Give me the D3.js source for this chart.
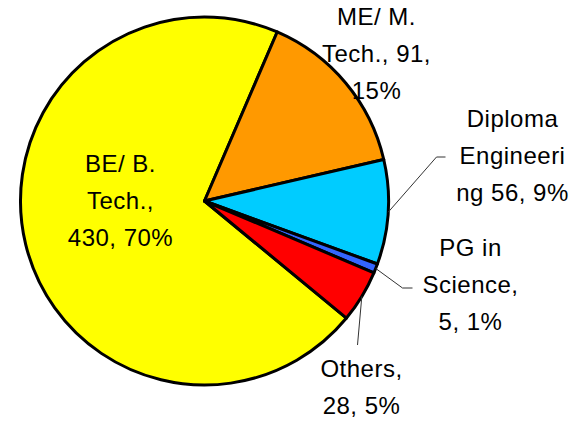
<!DOCTYPE html>
<html>
<head>
<meta charset="utf-8">
<script src="https://cdn.jsdelivr.net/npm/d3@7"></script>
<style>
  body { margin: 0; background: #fff; }
</style>
</head>
<body>
<div id="chart"></div>
<script>
// Pie of students by qualification

const categories = ["BE/ B. Tech.", "ME/ M. Tech.", "Diploma Engineering", "PG in Science", "Others"];
const counts = [430, 91, 56, 5, 28];
const colors = ["#ffff00", "#ff9900", "#00ccff", "#3366ff", "#ff0000"];
// how each label wraps ({v} = count, {p} = percent)
const labelLines = [
  ["BE/ B.", "Tech.,", "{v}, {p}%"],
  ["ME/ M.", "Tech., {v},", "{p}%"],
  ["Diploma", "Engineeri", "ng {v}, {p}%"],
  ["PG in", "Science,", "{v}, {p}%"],
  ["Others,", "{v}, {p}%"]
];

const width = 585,
  height = 424,
  cx = 204.5,
  cy = 201,
  radius = 184,
  lineH = 37;

// label placement relative to pie centre (first baseline), and leader line ends
const labelPos = [[-84, -29], [172, -176], [308, -74], [266, 55], [157, 176]];
const leaders = [null, null, [[232, -44], [241, -44]], [[198, 87], [208, 87]], [[153, 144]]];

const total = d3.sum(counts);
const deg = Math.PI / 180;

const arcs = d3.pie()
  .sort(null)
  .value(d => d)
  .startAngle(129.5 * deg)
  .endAngle(489.5 * deg)(counts);

const arc = d3.arc().innerRadius(0).outerRadius(radius);

const svg = d3.select("#chart")
  .append("svg")
  .attr("width", width)
  .attr("height", height)
  .style("font-family", "'Liberation Sans', Arial, sans-serif");

const g = svg.append("g").attr("transform", `translate(${cx},${cy})`);

g.append("g")
  .attr("stroke", "#000")
  .attr("stroke-width", 3)
  .attr("stroke-linejoin", "round")
  .selectAll("path")
  .data(arcs)
  .join("path")
  .attr("fill", (d, i) => colors[i])
  .attr("d", arc);

// leader lines from slice edge
g.append("g")
  .attr("fill", "none")
  .attr("stroke", "#333")
  .attr("stroke-width", 1)
  .selectAll("path")
  .data(arcs.filter((d, i) => leaders[i]))
  .join("path")
  .attr("d", d => {
    const mid = (d.startAngle + d.endAngle) / 2;
    const start = d3.pointRadial(mid, radius);
    return d3.line()([start, ...leaders[d.index]]);
  });

g.append("g")
  .attr("font-size", 24)
  .attr("letter-spacing", 0.5)
  .attr("text-anchor", "middle")
  .attr("fill", "#000")
  .selectAll("text")
  .data(arcs)
  .join("text")
  .attr("transform", d => `translate(${labelPos[d.index]})`)
  .selectAll("tspan")
  .data(d => {
    const pct = Math.round(d.value / total * 100);
    return labelLines[d.index].map(s => s.replace("{v}", d.value).replace("{p}", pct));
  })
  .join("tspan")
  .attr("x", 0)
  .attr("y", (d, i) => i * lineH)
  .text(d => d);
</script>
</body>
</html>
